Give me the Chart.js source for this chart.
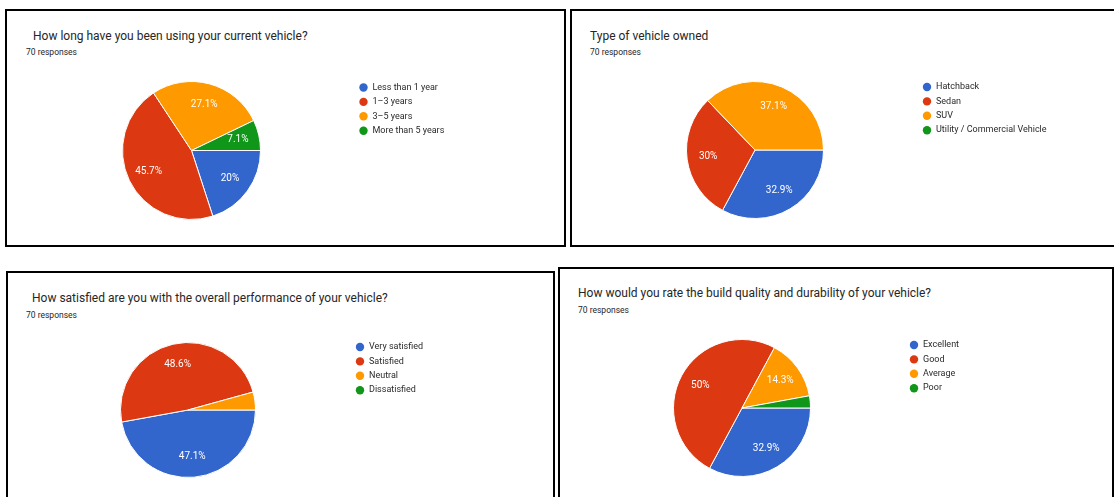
<!DOCTYPE html>
<html>
<head>
<meta charset="utf-8">
<title>Vehicle survey responses</title>
<script src="https://cdn.jsdelivr.net/npm/chart.js@4.4.1/dist/chart.umd.min.js"></script>
<style>
  body {
    margin: 0;
    width: 1114px;
    height: 497px;
    position: relative;
    overflow: hidden;
    background: #fff;
    font-family: Roboto, Arial, sans-serif;
  }
  .card { position: absolute; box-sizing: border-box; border: 2px solid #000; }
  .q { position: absolute; font-size: 12px; line-height: 14px; color: #262626; white-space: nowrap; }
  .n { position: absolute; font-size: 8.5px; line-height: 10px; color: #262626; white-space: nowrap; }
  canvas { position: absolute; }
</style>
</head>
<body>

<div class="card" style="left:5px;top:9px;width:561px;height:238px"></div>
<div class="card" style="left:570px;top:9px;width:560px;height:238px"></div>
<div class="card" style="left:6px;top:271px;width:549px;height:240px"></div>
<div class="card" style="left:558px;top:267px;width:556px;height:240px"></div>

<div class="q" style="left:33px;top:29px">How long have you been using your current vehicle?</div>
<div class="n" style="left:26px;top:47px">70 responses</div>
<div class="q" style="left:590px;top:29px">Type of vehicle owned</div>
<div class="n" style="left:590px;top:47px">70 responses</div>
<div class="q" style="left:32px;top:291px">How satisfied are you with the overall performance of your vehicle?</div>
<div class="n" style="left:26px;top:310px">70 responses</div>
<div class="q" style="left:578px;top:286px">How would you rate the build quality and durability of your vehicle?</div>
<div class="n" style="left:578px;top:305px">70 responses</div>

<canvas id="tenureChart"></canvas>
<canvas id="typeChart"></canvas>
<canvas id="satisfactionChart"></canvas>
<canvas id="qualityChart"></canvas>

<script>
// answers per option, 70 responses in every question
const tenureLabels = ["Less than 1 year", "1–3 years", "3–5 years", "More than 5 years"];
const tenureCounts = [14, 32, 19, 5];

const typeLabels = ["Hatchback", "Sedan", "SUV", "Utility / Commercial Vehicle"];
const typeCounts = [23, 21, 26, 0];

const satisfactionLabels = ["Very satisfied", "Satisfied", "Neutral", "Dissatisfied"];
const satisfactionCounts = [33, 34, 3, 0];

const qualityLabels = ["Excellent", "Good", "Average", "Poor"];
const qualityCounts = [23, 35, 10, 2];

const sliceColors = ["#3366cc", "#dc3912", "#ff9900", "#109618"];

function formatPct(share) {
    return parseFloat((share * 100).toFixed(1)) + "%";
}

// percentage written inside each slice (small slices stay blank)
const sliceLabels = {
    id: "sliceLabels",
    afterDatasetsDraw(chart) {
        const ctx = chart.ctx;
        const counts = chart.data.datasets[0].data;
        const total = counts.reduce((a, b) => a + b, 0);
        ctx.save();
        ctx.font = "10px Roboto, Arial, sans-serif";
        ctx.fillStyle = "#fff";
        ctx.textAlign = "center";
        ctx.textBaseline = "middle";
        chart.getDatasetMeta(0).data.forEach((arc, i) => {
            const share = counts[i] / total;
            if (share < 0.05) return;
            const mid = (arc.startAngle + arc.endAngle) / 2;
            const dist = arc.outerRadius * 0.69;
            ctx.fillText(formatPct(share), arc.x + Math.cos(mid) * dist, arc.y + Math.sin(mid) * dist);
        });
        ctx.restore();
    }
};

// legend to the right of the pie, dots + labels
const sideLegend = {
    id: "sideLegend",
    afterDraw(chart) {
        const ctx = chart.ctx;
        const arc = chart.getDatasetMeta(0).data[0];
        ctx.save();
        ctx.font = "9px Roboto, Arial, sans-serif";
        ctx.textBaseline = "middle";
        chart.data.labels.forEach((label, i) => {
            const x = arc.x + 172;
            const y = arc.y - 63 + i * 14.4;
            ctx.beginPath();
            ctx.arc(x, y, 4.2, 0, Math.PI * 2);
            ctx.fillStyle = sliceColors[i];
            ctx.fill();
            ctx.fillStyle = "#2a2a2a";
            ctx.fillText(label, x + 9, y);
        });
        ctx.restore();
    }
};

function makePie(id, labels, counts, cx, cy, r) {
    const canvas = document.getElementById(id);
    const side = Math.round(2 * r + 2);
    const width = 420;
    canvas.width = width;
    canvas.height = side;
    canvas.style.left = (cx - side / 2) + "px";
    canvas.style.top = (cy - side / 2) + "px";

    return new Chart(canvas, {
        type: "pie",
        data: {
            labels: labels,
            datasets: [{
                data: counts,
                backgroundColor: sliceColors,
                borderColor: "#fff",
                borderWidth: 1
            }]
        },
        options: {
            responsive: false,
            animation: false,
            events: [],
            rotation: 90,
            layout: { padding: { right: width - side } },
            plugins: {
                legend: { display: false },
                tooltip: { enabled: false }
            }
        },
        plugins: [sliceLabels, sideLegend]
    });
}

makePie("tenureChart", tenureLabels, tenureCounts, 191.5, 150, 68.5);
makePie("typeChart", typeLabels, typeCounts, 754.5, 150, 68);
makePie("satisfactionChart", satisfactionLabels, satisfactionCounts, 188, 410, 67);
makePie("qualityChart", qualityLabels, qualityCounts, 742, 407.5, 68);
</script>
</body>
</html>
